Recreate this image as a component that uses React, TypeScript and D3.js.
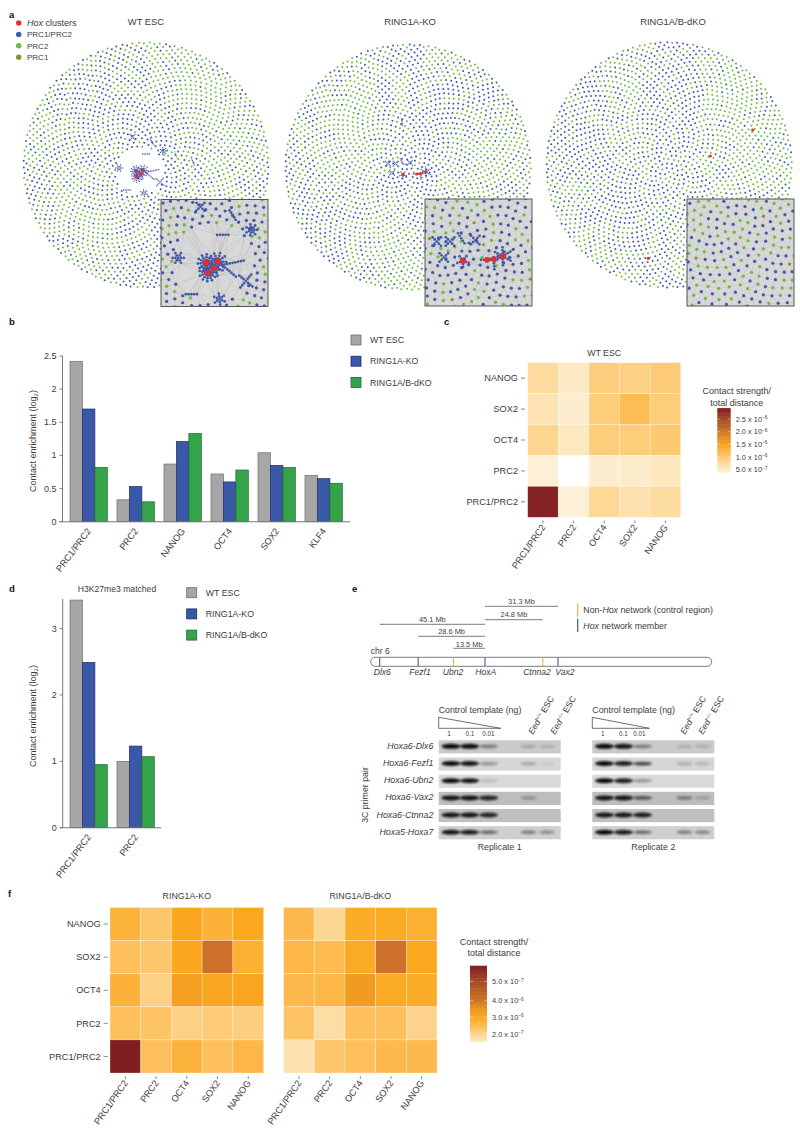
import React from 'react';
import * as d3 from 'd3';

const FONT = '"Liberation Sans", Arial, sans-serif';
const TEXT = '#3c3c3c';

// ---------- panel a: network data (layout units, origin = network centre) ----------
const NODE_COUNT = 2200;
const NETWORK_RADIUS = 123;
const PRC1_EVERY = 57;
const NET_TITLES = ['WT ESC', 'RING1A-KO', 'RING1A/B-dKO'];
const NET_TITLE_X = [146, 410, 673];
const NET_CENTRES = [[146, 165], [408, 167], [669, 165]];
const NET_TICKS = [70, 85, 100];
const NET_TURN = [0, 1.9, 3.7];
// share of green (PRC2) nodes, 0-9, read per 8x8 region of each network
const greenWT = ['55547865', '63346885', '75333686', '64422576', '37532574', '58743555', '56853555', '57633555'];
const greenKO = ['55644644', '66853333', '57852356', '47743587', '45622675', '34673335', '33785355', '55577555'];
const greenDKO = ['55643755', '63732785', '33633787', '32644686', '54244577', '63244455', '67434555', '56634555'];
const hoxWT = [[-10, 6], [-3, 5], [-5, 9], [-9, 12]];
const hoxKO = [[-5, 7.7], [8.7, 7], [12.7, 6.7], [17.7, 5]];
const hoxDKO = [[83.7, -35], [41.3, -9], [-20.7, 93.3]];
// sub-clusters: x, y, arms, dots per arm, angle, kind
const clustersWT = [
  [-10, 6, 11, 3, 0.2, 'b'], [-9, 12, 11, 3, 0.5, 'b'], [-3, 5, 9, 3, 0.1, 'b'], [-5, 9, 7, 3, 0.3, 'b'],
  [1, 7, 1, 7, -0.2, 'b'], [4, 11, 2, 3, 0.7, 'b'], [-13.5, -28, 4, 2, 0.8, 'b'], [6, -23, 2, 2, 1.0, 'b'],
  [17.5, -14, 7, 2, 0, 'b'], [0, -11, 2, 2, 0, 'b'], [30, -10, 2, 2, 1.2, 'g'], [47, -3, 2, 2, 1.2, 'b'],
  [-27, 3, 6, 2, 0, 'b'], [14, 17, 4, 3, 0.7, 'b'], [-19, 25, 2, 2, 0, 'b'], [-2, 28, 6, 2, 0.4, 'b'],
];
const clustersKO = [
  [-20, -3.4, 4, 2, 0.8, 'b'], [-12.4, -3.4, 4, 2, 0.8, 'b'], [-6, -5.3, 2, 2, 1.0, 'b'], [2, -4.3, 4, 2, 0.8, 'b'],
  [-16, 5.7, 4, 2, 0.8, 'b'], [-5, 7.7, 5, 2, 0.3, 'b'], [17.7, 5, 6, 3, 0.5, 'b'], [8.7, 7, 2, 2, 0, 'b'],
  [-6, -45, 2, 2, 1.5, 'b'], [12.7, 9, 2, 2, 1.5, 'b'],
];
const clustersDKO: any[] = [];
const NET_GREEN = [greenWT, greenKO, greenDKO];
const NET_HOX = [hoxWT, hoxKO, hoxDKO];
const NET_CLUSTERS = [clustersWT, clustersKO, clustersDKO];
const NET_HOLES = [24, 0, 0];
const INSET_BOX = [[161, 199.5], [425, 199], [687, 199]];
const INSET_ANCHOR = [[-6.5, 7.3, 51, 65.5, 1.65], [-5, 7.7, 38, 62, 1.75], [0, 25, 53, 53, 1.75]];
const INSET_SIZE = 107;
const legendA = [['Hox', ' clusters', '#ee2a2e'], ['', 'PRC1/PRC2', '#3f58a8'], ['', 'PRC2', '#69bd45'], ['', 'PRC1', '#8f8f2b']];

// ---------- panels b, d ----------
const seriesNames = ['WT ESC', 'RING1A-KO', 'RING1A/B-dKO'];
const seriesFill = ['#a6a6a6', '#3b58a8', '#35a34a'];
const seriesStroke = ['#6e6e6e', '#1f2e63', '#1d6a30'];
const catsB = ['PRC1/PRC2', 'PRC2', 'NANOG', 'OCT4', 'SOX2', 'KLF4'];
const wtB = [2.42, 0.33, 0.87, 0.72, 1.04, 0.7];
const koB = [1.7, 0.53, 1.21, 0.6, 0.85, 0.65];
const dkoB = [0.82, 0.3, 1.33, 0.78, 0.82, 0.58];
const ticksB = [0, 0.5, 1, 1.5, 2, 2.5];
const catsD = ['PRC1/PRC2', 'PRC2'];
const wtD = [3.43, 1.0];
const koD = [2.49, 1.23];
const dkoD = [0.95, 1.07];
const ticksD = [0, 1, 2, 3];

// ---------- panels c, f ----------
const heatRows = ['NANOG', 'SOX2', 'OCT4', 'PRC2', 'PRC1/PRC2'];
const heatCols = ['PRC1/PRC2', 'PRC2', 'OCT4', 'SOX2', 'NANOG'];
const heatWT = [
  [7.6, 5.4, 9.4, 9.0, 9.8], [6.4, 4.8, 9.6, 11.8, 9.6], [8.4, 5.6, 9.6, 9.6, 10],
  [4.3, 3.2, 4.8, 5, 5.8], [29, 4.3, 8, 6.6, 7.4],
];
const heatKO = [
  [2.7, 2.3, 3.05, 2.75, 3.0], [2.4, 2.3, 3.05, 4.1, 2.8], [2.75, 2.1, 3.25, 3.1, 3.1],
  [2.4, 2.35, 2.1, 2.2, 2.15], [5.9, 2.4, 2.7, 2.4, 2.6],
];
const heatDKO = [
  [2.55, 2.0, 2.9, 2.95, 2.8], [2.6, 2.5, 2.95, 4.1, 3.0], [2.55, 2.6, 3.4, 2.95, 2.9],
  [2.35, 1.85, 2.4, 2.4, 2.05], [1.75, 2.3, 2.4, 2.55, 2.55],
];
const legendC = [[25, '2.5', '−6'], [20, '2.0', '−6'], [15, '1.5', '−6'], [10, '1.0', '−6'], [5, '5.0', '−7']];
const legendF = [[5, '5.0', '−7'], [4, '4.0', '−6'], [3, '3.0', '−6'], [2, '2.0', '−7']];

// ---------- panel e ----------
const loci = ['Dlx6', 'Fezf1', 'Ubn2', 'HoxA', 'Ctnna2', 'Vax2'];
const lociMb = [0, 16.5, 31.6, 45.1, 69.9, 76.4];
const lociControl = [false, false, true, false, true, false];
const spans = [['31.3 Mb', 45.1, 76.4], ['24.8 Mb', 45.1, 69.9], ['45.1 Mb', 0, 45.1], ['28.6 Mb', 16.5, 45.1], ['13.5 Mb', 31.6, 45.1]];
const primerPairs = ['Hoxa6-Dlx6', 'Hoxa6-Fezf1', 'Hoxa6-Ubn2', 'Hoxa6-Vax2', 'Hoxa6-Ctnna2', 'Hoxa5-Hoxa7'];
const gelTone = ['#cacaca', '#d6d6d6', '#d9d9d9', '#bdbdbd', '#c0c0c0', '#cfcfcf'];
const rep1 = [[1, 1, 0.4, 0.2, 0.15], [1, 0.95, 0.3, 0.25, 0.06], [1, 0.95, 0.12, 0, 0], [0.95, 0.95, 0.85, 0.28, 0], [0.95, 0.95, 0.85, 0, 0], [0.95, 0.9, 0.5, 0.45, 0.35]];
const rep2 = [[1, 0.95, 0.4, 0.15, 0.15], [1, 0.9, 0.7, 0.2, 0.15], [1, 0.9, 0.3, 0, 0], [0.95, 0.95, 0.6, 0.45, 0.2], [0.95, 0.95, 0.9, 0, 0], [1, 0.9, 0.5, 0.45, 0.4]];
const templateLabels = ['1', '0.1', '0.01'];

const T = ({ x, y, s = 9, a = 'start', c = TEXT, r, w, st, children }: any) => (
  <text x={r === undefined ? x : 0} y={r === undefined ? y : 0}
    transform={r === undefined ? undefined : `translate(${x},${y}) rotate(${r})`}
    fontSize={s} textAnchor={a} fill={c} fontWeight={w} fontStyle={st} fontFamily={FONT}>{children}</text>
);

// ---------- network ----------
function layoutNetwork(idx: number) {
  const raw: any[] = d3.range(NODE_COUNT).map(() => ({} as any));
  d3.forceSimulation(raw)
    .force('charge', d3.forceManyBody().strength(-8))
    .force('collide', d3.forceCollide(8.5).strength(0.7))
    .force('x', d3.forceX(0).strength(0.06))
    .force('y', d3.forceY(0).strength(0.06))
    .stop()
    .tick(NET_TICKS[idx]);
  const maxR = d3.max(raw, (n: any) => Math.hypot(n.x, n.y)) as number;
  const unit = d3.scaleLinear().domain([-maxR, maxR]).range([-NETWORK_RADIUS, NETWORK_RADIUS]);
  const cell = d3.scaleQuantize<number>().domain([-NETWORK_RADIUS, NETWORK_RADIUS]).range(d3.range(8));
  const acc = d3.range(64).map(() => 0.45);
  const grid = NET_GREEN[idx];
  const hole = NET_HOLES[idx];
  const [hx, hy] = idx === 0 ? [-6, 7] : [0, 0];
  const cs = Math.cos(NET_TURN[idx]), sn = Math.sin(NET_TURN[idx]);
  return raw
    .map((n: any, i: number) => {
      const ux = unit(n.x), uy = unit(n.y);
      const x = ux * cs - uy * sn, y = ux * sn + uy * cs;
      const col = cell(x), row = cell(y);
      const key = row * 8 + col;
      acc[key] += +grid[row][col] / 9;
      let k = 'b';
      if (acc[key] >= 1) { acc[key] -= 1; k = 'g'; }
      if (i % PRC1_EVERY === 30) k = 'o';
      return { x, y, k };
    })
    .filter((n: any) => hole === 0 || Math.hypot(n.x - hx, n.y - hy) > hole);
}

function clusterDots(list: any[]) {
  const out: any[] = [];
  list.forEach(([x, y, arms, dots, ang, k]) => {
    out.push({ x, y, k });
    d3.range(arms).forEach((a: number) => {
      const th = ang + (a * 2 * Math.PI) / arms;
      d3.range(1, dots + 1).forEach((j: number) => {
        const rr = j * 1.7;
        out.push({ x: x + rr * Math.cos(th), y: y + rr * Math.sin(th), k });
      });
    });
  });
  return out;
}

const nodeColor: any = { b: '#3f58a8', g: '#69bd45', o: '#8f8f2b' };

function Network({ idx }: { idx: number }) {
  const nodes = layoutNetwork(idx);
  const extra = clusterDots(NET_CLUSTERS[idx]);
  const hox = NET_HOX[idx];
  const [cx, cy] = NET_CENTRES[idx];
  const mx = d3.scaleLinear().domain([0, 1]).range([cx, cx + 1]);
  const my = d3.scaleLinear().domain([0, 1]).range([cy, cy + 1]);
  const [bx, by] = INSET_BOX[idx];
  const [ax, ay, ox, oy, k] = INSET_ANCHOR[idx];
  const ix = d3.scaleLinear().domain([ax, ax + 1]).range([bx + ox, bx + ox + k]);
  const iy = d3.scaleLinear().domain([ay, ay + 1]).range([by + oy, by + oy + k]);
  const inside = (n: any) => {
    const px = ix(n.x), py = iy(n.y);
    return px > bx - 6 && px < bx + INSET_SIZE + 6 && py > by - 6 && py < by + INSET_SIZE + 6;
  };
  const insetNodes = nodes.filter(inside);
  const insetExtra = extra.filter(inside);
  const mesh = d3.Delaunay.from([...insetNodes, ...insetExtra].map((n: any) => [ix(n.x), iy(n.y)]) as any).render();
  const clipId = `inset-${idx}`;
  const hubLines = idx === 2 ? [] : insetNodes.filter((_: any, i: number) => i % 9 === 0);
  return (
    <g>
      <T x={NET_TITLE_X[idx]} y={25} s={9.4} a="middle">{NET_TITLES[idx]}</T>
      {nodes.map((n: any, i: number) => (
        <circle key={i} cx={mx(n.x)} cy={my(n.y)} r={1.0} fill={nodeColor[n.k]} />
      ))}
      {extra.map((n: any, i: number) => (
        <circle key={i} cx={mx(n.x)} cy={my(n.y)} r={0.7} fill={nodeColor[n.k]} />
      ))}
      {hox.map((h: number[], i: number) => (
        <circle key={i} cx={mx(h[0])} cy={my(h[1])} r={1.6} fill="#ee2a2e" />
      ))}
      <clipPath id={clipId}><rect x={bx} y={by} width={INSET_SIZE} height={INSET_SIZE} /></clipPath>
      <g clipPath={`url(#${clipId})`}>
        <rect x={bx} y={by} width={INSET_SIZE} height={INSET_SIZE} fill="#d9d9d9" />
        <path d={mesh} fill="none" stroke="#b8b8b8" strokeWidth={0.4} />
        {hubLines.map((n: any, i: number) => (
          <line key={i} x1={ix(hox[i % hox.length][0])} y1={iy(hox[i % hox.length][1])} x2={ix(n.x)} y2={iy(n.y)} stroke="#bcbcbc" strokeWidth={0.35} />
        ))}
        {insetNodes.map((n: any, i: number) => (
          <circle key={i} cx={ix(n.x)} cy={iy(n.y)} r={1.6} fill={nodeColor[n.k]} />
        ))}
        {insetExtra.map((n: any, i: number) => (
          <circle key={i} cx={ix(n.x)} cy={iy(n.y)} r={1.35} fill={nodeColor[n.k]} />
        ))}
        {hox.filter(inside2(ix, iy, bx, by)).map((h: number[], i: number) => (
          <circle key={i} cx={ix(h[0])} cy={iy(h[1])} r={2.9} fill="#ee2a2e" />
        ))}
      </g>
      <rect x={bx} y={by} width={INSET_SIZE} height={INSET_SIZE} fill="none" stroke="#565656" strokeWidth={1} />
    </g>
  );
}
const inside2 = (ix: any, iy: any, bx: number, by: number) => (h: number[]) => {
  const px = ix(h[0]), py = iy(h[1]);
  return px > bx && px < bx + INSET_SIZE && py > by && py < by + INSET_SIZE;
};

// ---------- bars ----------
function Bars({ cats, series, ticks, x0, x1, axisX, axisEnd, y0, yTop, top, labelY }: any) {
  const outer = d3.scaleBand().domain(cats).range([x0, x1]).paddingInner(0.206).paddingOuter(0);
  const inner = d3.scaleBand().domain(seriesNames).range([0, outer.bandwidth()]);
  const y = d3.scaleLinear().domain([0, top]).range([y0, yTop]);
  return (
    <g>
      <line x1={axisX} x2={axisX} y1={y0} y2={yTop} stroke="#6a6a6a" strokeWidth={0.9} />
      {ticks.map((t: number) => (
        <g key={t}>
          <line x1={axisX - 3} x2={axisX} y1={y(t)} y2={y(t)} stroke="#6a6a6a" strokeWidth={0.8} />
          <T x={axisX - 6} y={y(t) + 3} a="end">{t}</T>
        </g>
      ))}
      {series.map((vals: number[], s: number) =>
        vals.map((v: number, i: number) => (
          <rect key={`${s}-${i}`} x={(outer(cats[i]) as number) + (inner(seriesNames[s]) as number)} y={y(v)}
            width={inner.bandwidth()} height={y(0) - y(v)} fill={seriesFill[s]} stroke={seriesStroke[s]} strokeWidth={0.7} />
        )))}
      <line x1={axisX - 3} x2={axisEnd} y1={y0} y2={y0} stroke="#777" strokeWidth={1.1} />
      {cats.map((c: string) => (
        <T key={c} x={(outer(c) as number) + outer.bandwidth() / 2 + 3} y={y0 + 9.5} r={-53} a="end" s={9.2}>{c}</T>
      ))}
      <T x={36} y={labelY} r={-90} a="middle">Contact enrichment (log<tspan fontSize={6} dy={1.5}>2</tspan><tspan dy={-1.5}>)</tspan></T>
    </g>
  );
}

function BarLegend({ x, y }: any) {
  return (
    <g>
      {seriesNames.map((n, i) => (
        <g key={n}>
          <rect x={x} y={y + i * 21.2} width={10} height={10} fill={seriesFill[i]} stroke={seriesStroke[i]} strokeWidth={0.8} />
          <T x={x + 19} y={y + i * 21.2 + 8.2} s={8.8}>{n}</T>
        </g>
      ))}
    </g>
  );
}

// ---------- heatmaps ----------
function Heat({ data, color, x0, x1, y0, y1, title, titleY, showRows, rowX, tickFs = 9.2 }: any) {
  const xs = d3.scaleBand().domain(heatCols).range([x0, x1]);
  const ys = d3.scaleBand().domain(heatRows).range([y0, y1]);
  return (
    <g>
      <T x={(x0 + x1) / 2} y={titleY} s={8.8} a="middle">{title}</T>
      {data.map((row: number[], r: number) =>
        row.map((v: number, c: number) => (
          <rect key={`${r}-${c}`} x={xs(heatCols[c])} y={ys(heatRows[r])} width={xs.bandwidth()} height={ys.bandwidth()}
            fill={color(v)} stroke="#fff" strokeOpacity={0.4} strokeWidth={0.7} />
        )))}
      {showRows && heatRows.map((n) => (
        <g key={n}>
          <line x1={rowX + 3} x2={rowX + 7} y1={(ys(n) as number) + ys.bandwidth() / 2} y2={(ys(n) as number) + ys.bandwidth() / 2} stroke="#555" strokeWidth={0.7} />
          <T x={rowX} y={(ys(n) as number) + ys.bandwidth() / 2 + 3.2} s={tickFs} a="end">{n}</T>
        </g>
      ))}
      {heatCols.map((n) => {
        const cx = (xs(n) as number) + xs.bandwidth() / 2;
        return (
          <g key={n}>
            <line x1={cx} x2={cx} y1={y1 + 3.2} y2={y1 + 6} stroke="#555" strokeWidth={0.7} />
            <T x={cx + 3} y={y1 + 10} s={tickFs} a="end" r={-55}>{n}</T>
          </g>
        );
      })}
    </g>
  );
}

function ColorBar({ color, pos, min, max, x, w, labels, titleX, titleY }: any) {
  const vals = d3.range(0, 24).map((i: number) => min + ((max - min) * i) / 24);
  const step = (max - min) / 24;
  return (
    <g>
      <T x={titleX} y={titleY} s={9} a="middle">Contact strength/</T>
      <T x={titleX} y={titleY + 11.5} s={9} a="middle">total distance</T>
      {vals.map((v: number) => (
        <rect key={v} x={x} y={pos(v + step)} width={w} height={pos(v) - pos(v + step) + 0.4} fill={color(v + step / 2)} />
      ))}
      {labels.map(([v, m, e]: any) => (
        <g key={v}>
          <line x1={x} x2={x + 3} y1={pos(v)} y2={pos(v)} stroke="#fff" strokeOpacity={0.7} strokeWidth={0.6} />
          <line x1={x + w - 3} x2={x + w} y1={pos(v)} y2={pos(v)} stroke="#fff" strokeOpacity={0.7} strokeWidth={0.6} />
          <T x={x + w + 5} y={pos(v) + 2.7} s={7.4}>{m} x 10<tspan fontSize={4.8} dy={-2.6}>{e}</tspan></T>
        </g>
      ))}
    </g>
  );
}

// ---------- gels ----------
function Gel({ data, x0, laneX, tri, numX, eedX }: any) {
  const rows = d3.scaleBand().domain(primerPairs).range([740.3, 839.3]).paddingInner(0.235);
  return (
    <g>
      <T x={x0} y={713} s={8.8}>Control template (ng)</T>
      <path d={`M${x0},717.3 V728.3 H${x0 + tri} Z`} fill="#fff" stroke="#333" strokeWidth={0.7} />
      {templateLabels.map((t, i) => <T key={t} x={numX[i]} y={735.8} s={6.3} a="middle">{t}</T>)}
      {['+/+', '−/−'].map((g, i) => (
        <T key={g} x={eedX[i]} y={735} s={8.6} r={-60}><tspan fontStyle="italic">Eed</tspan><tspan fontSize={5} dy={-3}>{g}</tspan><tspan dy={3}> ESC</tspan></T>
      ))}
      {data.map((row: number[], r: number) => {
        const y = rows(primerPairs[r]) as number;
        return (
          <g key={r}>
            <rect x={x0} y={y} width={122} height={rows.bandwidth()} fill={gelTone[r]} />
            {row.map((v: number, l: number) => v > 0 && (
              <ellipse key={l} cx={laneX[l]} cy={y + rows.bandwidth() / 2 - 0.5} rx={l < 3 ? 9.5 : 8} ry={v > 0.7 ? 2.5 : 1.9}
                fill="#0c0c0c" opacity={Math.min(1, v * (l < 3 ? 1 : 0.9))} filter="url(#bandBlur)" />
            ))}
          </g>
        );
      })}
    </g>
  );
}

export default function App() {
  const colorC = d3.scaleLinear<string>()
    .domain([3.2, 4, 5, 10, 15, 20, 25, 29.3])
    .range(['#ffffff', '#fdf2da', '#fdeccb', '#fdca72', '#f9a51e', '#cf7a28', '#a34a25', '#7f1f22']);
  const posC = d3.scaleLinear().domain([5, 25]).range([469.7, 419]);
  const colorF = d3.scaleLinear<string>()
    .domain([1.6, 2, 2.5, 3, 3.5, 4, 5, 5.9])
    .range(['#fde9c3', '#fdd692', '#fdbb50', '#fba81f', '#ef9822', '#d0742a', '#a54b26', '#7f1f22']);
  const posF = d3.scaleLinear().domain([1.6, 2, 3, 4, 5, 5.9]).range([1041.4, 1034, 1017, 1000.7, 981.4, 965.7]);
  const chr = d3.scaleLinear().domain([0, 76.4]).range([379.7, 558]);
  const spanY = [606.3, 619.7, 624.3, 636.3, 648.3];
  const spanLabelY = [603.5, 616.8, 622, 634, 646.5];
  const lociLabelX = [382.3, 420, 453, 485.7, 537, 565];
  return (
    <svg width={800} height={1128} viewBox="0 0 800 1128" style={{ position: 'absolute', left: 0, top: 0, background: '#fff' }}>
      <defs>
        <filter id="bandBlur" x="-30%" y="-80%" width="160%" height="260%"><feGaussianBlur stdDeviation="0.9" /></filter>
      </defs>

      {[['a', 9, 18], ['b', 9, 325], ['c', 444, 325], ['d', 9, 592], ['e', 352, 592], ['f', 8, 897]].map(([l, x, y]: any) => (
        <T key={l} x={x} y={y} s={9.5} w="bold" c="#111">{l}</T>
      ))}

      {/* a */}
      {NET_TITLES.map((_, i) => <Network key={i} idx={i} />)}
      {legendA.map(([it, rest, col], i) => (
        <g key={i}>
          <circle cx={18.7} cy={23 + i * 11.4} r={2.7} fill={col} />
          <T x={27} y={26 + i * 11.4} s={i === 0 ? 9 : 8}><tspan fontStyle="italic">{it}</tspan>{rest}</T>
        </g>
      ))}

      {/* b */}
      <Bars cats={catsB} series={[wtB, koB, dkoB]} ticks={ticksB} x0={70} x1={342.3} axisX={62.5} axisEnd={350} y0={521.7} yTop={356} top={2.5} labelY={441} />
      <BarLegend x={351} y={335} />

      {/* c */}
      <Heat data={heatWT} color={colorC} x0={527.7} x1={680.7} y0={362.7} y1={517.3} title="WT ESC" titleY={355.5} showRows rowX={518} />
      <ColorBar color={colorC} pos={posC} min={4} max={29.3} x={717.3} w={13.4} labels={legendC} titleX={736.7} titleY={394} />

      {/* d */}
      <T x={117} y={592} s={8.6} a="middle">H3K27me3 matched</T>
      <Bars cats={catsD} series={[wtD, koD, dkoD]} ticks={ticksD} x0={70} x1={154.3} axisX={62.7} axisEnd={161} y0={827.7} yTop={599} top={3.446} labelY={716} />
      <BarLegend x={186.7} y={587.7} />

      {/* e */}
      <T x={370.7} y={654} s={8.6}>chr 6</T>
      <rect x={370.7} y={657.3} width={341} height={9} rx={4.5} fill="#fff" stroke="#444" strokeWidth={0.7} />
      {loci.map((l, i) => (
        <g key={l}>
          <line x1={chr(lociMb[i])} x2={chr(lociMb[i])} y1={657.6} y2={666} stroke={lociControl[i] ? '#f2b04a' : '#3f58a8'} strokeWidth={1.1} />
          <T x={lociLabelX[i]} y={675} s={8.6} a="middle" st="italic">{l}</T>
        </g>
      ))}
      {spans.map(([lab, a, b]: any, i) => (
        <g key={lab}>
          <line x1={chr(a)} x2={chr(b)} y1={spanY[i]} y2={spanY[i]} stroke="#444" strokeWidth={0.7} />
          <T x={(chr(a) + chr(b)) / 2} y={spanLabelY[i]} s={7.4} a="middle">{lab}</T>
        </g>
      ))}
      <line x1={577.7} x2={577.7} y1={603.3} y2={616.7} stroke="#f2b04a" strokeWidth={1.2} />
      <line x1={577.7} x2={577.7} y1={618.7} y2={632} stroke="#3f58a8" strokeWidth={1.2} />
      <T x={583.3} y={612.8} s={8.8}>Non-<tspan fontStyle="italic">Hox</tspan> network (control region)</T>
      <T x={583.3} y={629} s={8.8}><tspan fontStyle="italic">Hox</tspan> network member</T>

      <Gel data={rep1} x0={438.7} laneX={[451, 469.5, 488.5, 528.5, 547]} tri={62} numX={[449, 470, 488.5]} eedX={[533, 555]} />
      <Gel data={rep2} x0={592.3} laneX={[604.5, 623.5, 642.5, 684.5, 702.5]} tri={57} numX={[602.7, 623.3, 639.3]} eedX={[685, 703]} />
      {primerPairs.map((p, i) => (
        <T key={p} x={433.3} y={749 + i * 17.15} s={8.8} a="end" st="italic">{p}</T>
      ))}
      <T x={368} y={795} s={8.8} r={-90} a="middle">3C primer pair</T>
      <T x={499.7} y={850} s={8.8} a="middle">Replicate 1</T>
      <T x={653.3} y={850} s={8.8} a="middle">Replicate 2</T>

      {/* f */}
      <Heat data={heatKO} color={colorF} x0={110} x1={263.6} y0={907.5} y1={1073} title="RING1A-KO" titleY={899} showRows rowX={100.7} />
      <Heat data={heatDKO} color={colorF} x0={283.6} x1={437} y0={907.5} y1={1073} title="RING1A/B-dKO" titleY={899} showRows={false} rowX={0} />
      <ColorBar color={colorF} pos={posF} min={1.6} max={5.9} x={470} w={17} labels={legendF} titleX={494} titleY={944.5} />
    </svg>
  );
}
